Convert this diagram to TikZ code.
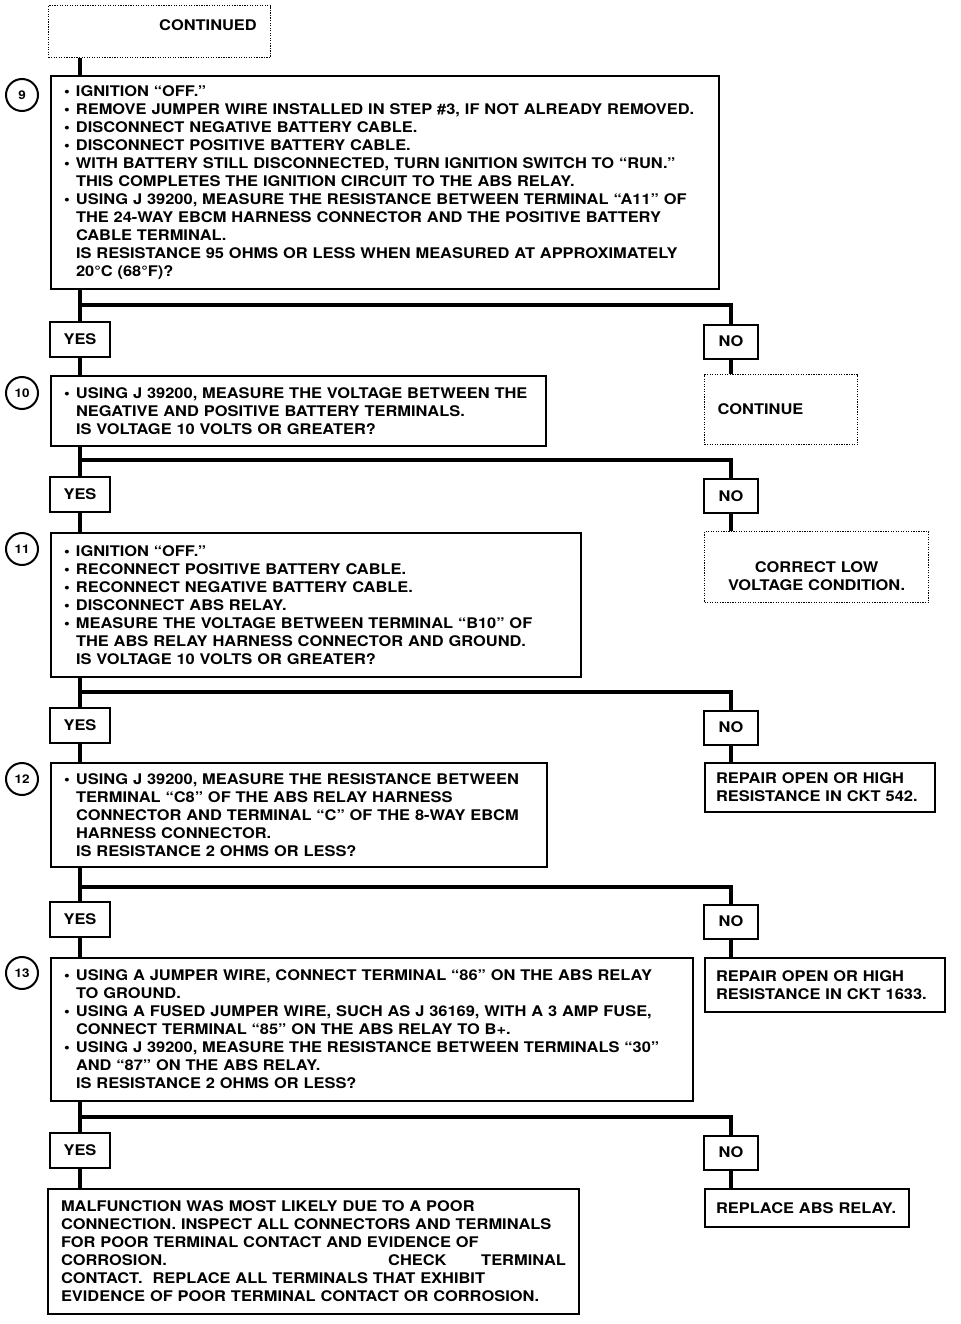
\documentclass[tikz,border=0pt]{standalone}
\usepackage{fontspec}
\setmainfont[FakeStretch=1.12]{TeX Gyre Heros}
\usetikzlibrary{positioning,calc}

\newcommand{\bl}{\makebox[9pt][l]{\textbullet}}
\newcommand{\ind}{\hspace*{9pt}}

\begin{document}
\begin{tikzpicture}[x=0.75pt,y=-0.75pt,
  font=\fontsize{11}{13.5}\selectfont\bfseries,
  stepbox/.style={draw,line width=1.5pt,anchor=north west,align=left,inner xsep=9.75pt,inner ysep=0pt},
  ansbox/.style={draw,line width=1.5pt,minimum width=45pt,minimum height=26.25pt,inner sep=0pt},
  nobox/.style={ansbox,minimum width=40.5pt,minimum height=25.5pt},
  dashbox/.style={draw,densely dotted,line width=0.9pt,anchor=north west,inner xsep=9.75pt,inner ysep=0pt},
  stepnum/.style={draw,circle,line width=1.5pt,minimum size=24pt,inner sep=0pt,font=\fontsize{9}{9}\selectfont\bfseries},
  wire/.style={line width=3pt}]

\useasboundingbox[fill=white] (0,0) rectangle (960,1324);

\node[dashbox,minimum width=166.5pt,minimum height=39pt] (cont) at (48,5) {};
\node (conttxt) at (208,25) {CONTINUED};

\node[stepnum] (num9) at (22,95) {9};
\node[stepbox,text width=481.5pt,minimum height=159.75pt] (s9) at (50,75)
  {\bl IGNITION “OFF.”\\
   \bl REMOVE JUMPER WIRE INSTALLED IN STEP \#3, IF NOT ALREADY REMOVED.\\
   \bl DISCONNECT NEGATIVE BATTERY CABLE.\\
   \bl DISCONNECT POSITIVE BATTERY CABLE.\\
   \bl WITH BATTERY STILL DISCONNECTED, TURN IGNITION SWITCH TO “RUN.”\\
   \ind THIS COMPLETES THE IGNITION CIRCUIT TO THE ABS RELAY.\\
   \bl USING J 39200, MEASURE THE RESISTANCE BETWEEN TERMINAL “A11” OF\\
   \ind THE 24-WAY EBCM HARNESS CONNECTOR AND THE POSITIVE BATTERY\\
   \ind CABLE TERMINAL.\\
   \ind IS RESISTANCE 95 OHMS OR LESS WHEN MEASURED AT APPROXIMATELY\\
   \ind 20°C (68°F)?};

\coordinate (j9) at (80,305);
\node[ansbox] (yes9) at (80,339.5) {YES};
\node[nobox] (no9) at (731,341.5) {NO};
\node[dashbox,text width=95.25pt,minimum height=52.5pt] (cont10) at (704,374) {CONTINUE};

\node[stepnum] (num10) at (22,393) {10};
\node[stepbox,text width=351.75pt,minimum height=52.5pt] (s10) at (50,375)
  {\bl USING J 39200, MEASURE THE VOLTAGE BETWEEN THE\\
   \ind NEGATIVE AND POSITIVE BATTERY TERMINALS.\\
   \ind IS VOLTAGE 10 VOLTS OR GREATER?};

\coordinate (j10) at (80,460);
\node[ansbox] (yes10) at (80,494.5) {YES};
\node[nobox] (no10) at (731,496) {NO};
\node[dashbox,align=center,text width=148.5pt,minimum height=53.25pt] (lowv) at (704,531)
  {\rule{0pt}{21.5pt}CORRECT LOW\\VOLTAGE CONDITION.};

\node[stepnum] (num11) at (22,549) {11};
\node[stepbox,text width=378pt,minimum height=108pt] (s11) at (50,532)
  {\bl IGNITION “OFF.”\\
   \bl RECONNECT POSITIVE BATTERY CABLE.\\
   \bl RECONNECT NEGATIVE BATTERY CABLE.\\
   \bl DISCONNECT ABS RELAY.\\
   \bl MEASURE THE VOLTAGE BETWEEN TERMINAL “B10” OF\\
   \ind THE ABS RELAY HARNESS CONNECTOR AND GROUND.\\
   \ind IS VOLTAGE 10 VOLTS OR GREATER?};

\coordinate (j11) at (80,692);
\node[ansbox] (yes11) at (80,725.5) {YES};
\node[nobox] (no11) at (731,727.5) {NO};
\node[stepbox,text width=156pt,inner xsep=8.25pt,minimum height=36.75pt] (rep542) at (704,762)
  {REPAIR OPEN OR HIGH\\RESISTANCE IN CKT 542.};

\node[stepnum] (num12) at (22,779) {12};
\node[stepbox,text width=352.5pt,minimum height=78pt] (s12) at (50,762)
  {\bl USING J 39200, MEASURE THE RESISTANCE BETWEEN\\
   \ind TERMINAL “C8” OF THE ABS RELAY HARNESS\\
   \ind CONNECTOR AND TERMINAL “C” OF THE 8-WAY EBCM\\
   \ind HARNESS CONNECTOR.\\
   \ind IS RESISTANCE 2 OHMS OR LESS?};

\coordinate (j12) at (80,887);
\node[ansbox] (yes12) at (80,919.5) {YES};
\node[nobox] (no12) at (731,921.5) {NO};
\node[stepbox,text width=163.5pt,inner xsep=8.25pt,minimum height=40.5pt] (rep1633) at (704,957)
  {REPAIR OPEN OR HIGH\\RESISTANCE IN CKT 1633.};

\node[stepnum] (num13) at (22,973) {13};
\node[stepbox,text width=462pt,minimum height=107.25pt] (s13) at (50,957)
  {\bl USING A JUMPER WIRE, CONNECT TERMINAL “86” ON THE ABS RELAY\\
   \ind TO GROUND.\\
   \bl USING A FUSED JUMPER WIRE, SUCH AS J 36169, WITH A 3 AMP FUSE,\\
   \ind CONNECT TERMINAL “85” ON THE ABS RELAY TO B+.\\
   \bl USING J 39200, MEASURE THE RESISTANCE BETWEEN TERMINALS “30”\\
   \ind AND “87” ON THE ABS RELAY.\\
   \ind IS RESISTANCE 2 OHMS OR LESS?};

\coordinate (j13) at (80,1117);
\node[ansbox] (yes13) at (80,1150.5) {YES};
\node[nobox] (no13) at (731,1152.5) {NO};
\node[stepbox,text width=136.5pt,inner xsep=8.25pt,minimum height=28.5pt] (relay) at (704,1188)
  {REPLACE ABS RELAY.};
\node[stepbox,text width=378.75pt,minimum height=93.75pt] (fix) at (47,1188)
  {MALFUNCTION WAS MOST LIKELY DUE TO A POOR\\
   CONNECTION. INSPECT ALL CONNECTORS AND TERMINALS\\
   FOR POOR TERMINAL CONTACT AND EVIDENCE OF\\
   \makebox[378.75pt][l]{CORROSION.\hfill CHECK\hspace{26pt}TERMINAL}\\
   CONTACT.\ \ REPLACE ALL TERMINALS THAT EXHIBIT\\
   EVIDENCE OF POOR TERMINAL CONTACT OR CORROSION.};

\draw[wire] (cont.south -| yes9) -- (s9.north -| yes9);
\draw[wire] (s9.south -| yes9) -- (yes9.north);
\draw[wire] (j9) -| (no9.north);
\draw[wire] (yes9.south) -- (s10.north -| yes9);
\draw[wire] (no9.south) -- (cont10.north -| no9);

\draw[wire] (s10.south -| yes10) -- (yes10.north);
\draw[wire] (j10) -| (no10.north);
\draw[wire] (yes10.south) -- (s11.north -| yes10);
\draw[wire] (no10.south) -- (lowv.north -| no10);

\draw[wire] (s11.south -| yes11) -- (yes11.north);
\draw[wire] (j11) -| (no11.north);
\draw[wire] (yes11.south) -- (s12.north -| yes11);
\draw[wire] (no11.south) -- (rep542.north -| no11);

\draw[wire] (s12.south -| yes12) -- (yes12.north);
\draw[wire] (j12) -| (no12.north);
\draw[wire] (yes12.south) -- (s13.north -| yes12);
\draw[wire] (no12.south) -- (rep1633.north -| no12);

\draw[wire] (s13.south -| yes13) -- (yes13.north);
\draw[wire] (j13) -| (no13.north);
\draw[wire] (yes13.south) -- (fix.north -| yes13);
\draw[wire] (no13.south) -- (relay.north -| no13);
\end{tikzpicture}
\end{document}
